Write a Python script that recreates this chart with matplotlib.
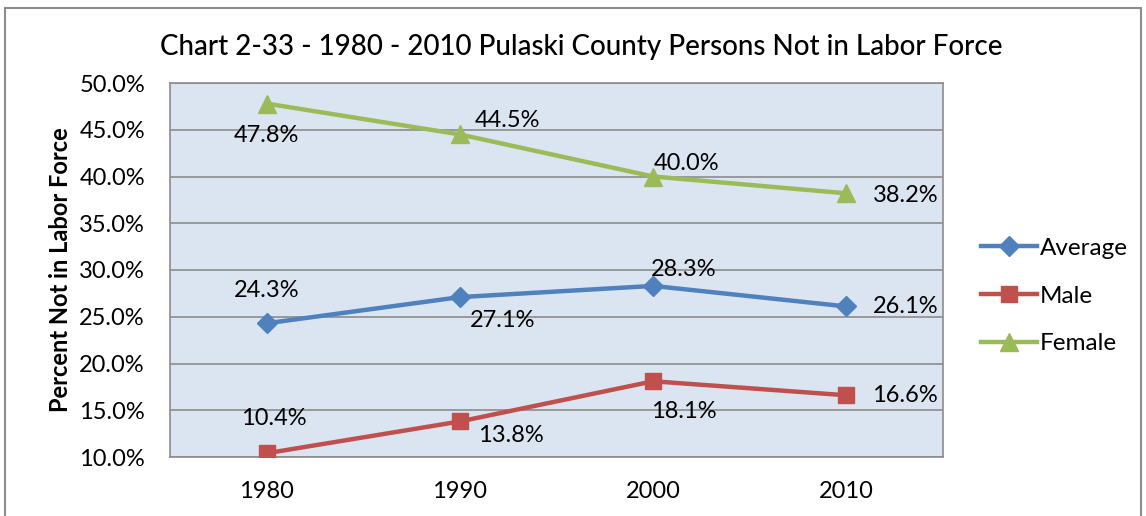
import numpy as np
import matplotlib.pyplot as plt
from matplotlib.patches import Rectangle

# Values
years = ['1980', '1990', '2000', '2010']
average = [24.3, 27.1, 28.3, 26.1]
male = [10.4, 13.8, 18.1, 16.6]
female = [47.8, 44.5, 40.0, 38.2]

# label offsets (pixels) for each point
avg_off = [(0, 33), (43, -23), (31, 16), (59, 0)]
male_off = [(7, 35), (51, -14), (31, -30), (59, 0)]
female_off = [(0, -32), (48, 14), (33, 13), (59, -2)]

plt.rcParams['font.family'] = ['Lato', 'DejaVu Sans']

fig = plt.figure(figsize=(11.46, 5.16), dpi=100)
ax = fig.add_axes([170 / 1146, 59 / 516, 773 / 1146, 374 / 516])
ax.set_facecolor('#DBE5F1')

x = np.arange(len(years))
series = [('Average', average, '#4F81BD', 'D', 10, avg_off),
          ('Male', male, '#C0504D', 's', 12, male_off),
          ('Female', female, '#9BBB59', '^', 13, female_off)]

for name, vals, color, marker, ms, offs in series:
    ax.plot(x, vals, color=color, lw=3.2, marker=marker, markersize=ms,
            label=name, zorder=3)
    for xi, v, off in zip(x, vals, offs):
        ax.annotate(f'{v:.1f}%', (xi, v), xytext=off, textcoords='offset pixels',
                    ha='center', va='center', fontsize=17, color='black')

ax.set_xlim(-0.5, 3.5)
ax.set_ylim(10, 50)
ax.set_yticks(np.arange(10, 50.1, 5))
ax.set_yticklabels([f'{t:.1f}%' for t in np.arange(10, 50.1, 5)], fontsize=17)
ax.set_xticks(x)
ax.set_xticklabels(years, fontsize=17)
ax.tick_params(axis='x', length=0, pad=17)
ax.tick_params(axis='y', length=0, pad=18)
ax.grid(axis='y', color='#8C8C8C', lw=1.2)
ax.set_axisbelow(True)
for s in ax.spines.values():
    s.set_color('#8C8C8C')
    s.set_linewidth(1.2)

ax.set_ylabel('Percent Not in Labor Force', fontsize=17, fontweight='bold', labelpad=5)

fig.text(0.507, 0.909, 'Chart 2-33 - 1980 - 2010 Pulaski County Persons Not in Labor Force',
         ha='center', va='center', fontsize=20, fontweight='medium')

ax.legend(loc='center left', bbox_to_anchor=(1.034, 0.43), frameon=False,
          fontsize=17.5, handlelength=2.3, handletextpad=0.1, labelspacing=1.1,
          borderpad=0)

fig.patches.append(Rectangle((5 / 1146, -0.05), 1136 / 1146, 1.0 - 8 / 516 + 0.05,
                             transform=fig.transFigure, fill=False,
                             edgecolor='#8C8C8C', lw=1.5))

fig.savefig('out.png', dpi=100)
